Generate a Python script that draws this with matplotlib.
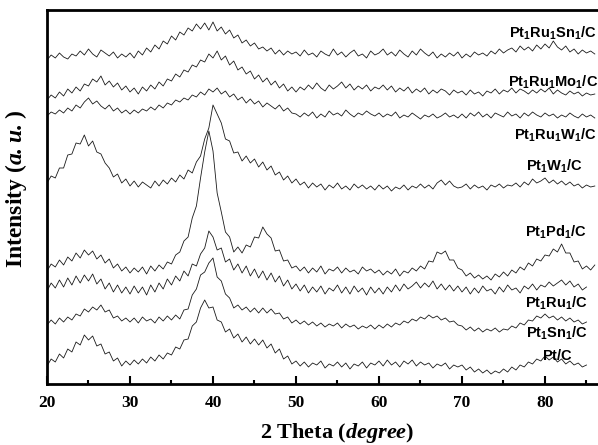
"""XRD patterns of the Pt based catalysts"""

import numpy as np
import matplotlib.pyplot as plt

plt.rcParams["mathtext.fontset"] = "custom"
plt.rcParams["mathtext.bf"] = "Liberation Sans:bold"
plt.rcParams["mathtext.bfit"] = "Liberation Serif:italic:bold"

# 2 theta grid, 0.5 degree steps
theta_full = np.arange(20, 86.01, 0.5)
theta_short = np.arange(20, 85.01, 0.5)

# intensities (arbitrary units, stacked offsets)
pt_ru_sn = [324, 329, 326, 331, 327, 325, 330, 328, 333, 329, 335, 330, 327, 334, 331, 328, 332, 326, 330, 327,
            331, 326, 333, 329, 336, 332, 339, 335, 343, 340, 348, 344, 352, 349, 356, 353, 360, 355, 361, 354,
            362, 353, 357, 350, 354, 346, 349, 341, 344, 338, 341, 335, 337, 333, 336, 330, 334, 329, 333, 330,
            332, 328, 334, 329, 331, 327, 333, 330, 328, 335, 329, 332, 327, 331, 334, 328, 330, 326, 333, 329,
            331, 335, 329, 332, 328, 334, 330, 327, 333, 329, 335, 331, 328, 332, 326, 330, 327, 331, 328, 332,
            326, 330, 327, 332, 329, 331, 328, 333, 330, 335, 331, 334, 336, 332, 338, 334, 337, 333, 339, 335,
            340, 336, 343, 337, 334, 338, 332, 335, 330, 334, 331, 333, 330]
pt_ru_mo = [284, 289, 286, 292, 288, 295, 291, 297, 293, 300, 298, 305, 302, 308, 299, 303, 297, 301, 294, 298,
            292, 296, 290, 297, 293, 299, 295, 302, 298, 305, 303, 310, 307, 314, 312, 319, 317, 324, 322, 330,
            326, 333, 324, 328, 319, 323, 314, 317, 310, 313, 305, 309, 302, 306, 299, 303, 296, 300, 293, 297,
            292, 297, 294, 299, 295, 301, 296, 293, 299, 295, 298, 302, 296, 300, 294, 298, 295, 299, 293, 297,
            295, 299, 294, 298, 292, 296, 293, 297, 291, 295, 292, 296, 290, 294, 291, 295, 293, 289, 294, 291,
            293, 289, 294, 290, 292, 288, 293, 291, 295, 290, 294, 292, 296, 291, 295, 293, 290, 294, 291, 295,
            292, 296, 290, 294, 291, 289, 293, 290, 292, 288, 291, 289, 290]
pt_ru_w = [268, 272, 270, 274, 271, 276, 273, 279, 276, 282, 286, 280, 283, 278, 275, 279, 273, 276, 271, 274,
           270, 274, 271, 275, 273, 277, 274, 279, 276, 281, 279, 284, 282, 286, 284, 289, 287, 292, 289, 295,
           292, 296, 290, 293, 287, 290, 284, 287, 281, 285, 280, 283, 277, 281, 278, 275, 279, 273, 276, 271,
           270, 267, 271, 268, 272, 266, 270, 267, 273, 269, 271, 268, 274, 270, 267, 271, 269, 273, 270, 268,
           271, 267, 270, 268, 272, 266, 269, 267, 271, 268, 265, 269, 267, 270, 266, 268, 271, 267, 269, 266,
           270, 266, 271, 268, 272, 267, 270, 266, 271, 269, 267, 272, 268, 270, 266, 271, 268, 272, 269, 267,
           271, 268, 270, 266, 269, 267, 271, 268, 266, 270, 267, 269, 266]
pt_w = [201, 208, 206, 216, 216, 229, 230, 241, 240, 249, 238, 243, 232, 230, 221, 216, 207, 210, 201, 205,
        198, 203, 197, 202, 199, 196, 203, 198, 204, 200, 206, 202, 209, 205, 214, 211, 222, 228, 245, 256,
        279, 270, 261, 245, 243, 231, 232, 223, 228, 221, 225, 217, 222, 214, 218, 209, 212, 204, 208, 201,
        205, 199, 202, 196, 201, 197, 200, 194, 199, 196, 201, 195, 198, 194, 200, 196, 199, 195, 198, 194,
        199, 195, 198, 193, 197, 195, 199, 194, 198, 196, 200, 196, 199, 195, 201, 204, 199, 203, 198, 196,
        197, 200, 195, 199, 196, 198, 194, 199, 197, 200, 196, 199, 198, 201, 197, 202, 199, 205, 201, 203,
        206, 201, 204, 200, 203, 199, 202, 198, 200, 196, 199, 197, 198]
pt_pd = [113, 120, 117, 124, 119, 127, 123, 131, 126, 134, 129, 133, 125, 129, 121, 125, 116, 120, 113, 117,
         111, 116, 112, 117, 110, 118, 113, 119, 115, 122, 120, 129, 132, 143, 147, 166, 178, 206, 232, 253,
         233, 191, 172, 152, 147, 132, 137, 131, 139, 137, 147, 146, 157, 150, 146, 133, 134, 123, 124, 116,
         118, 113, 117, 111, 116, 112, 118, 110, 115, 113, 117, 111, 116, 112, 114, 110, 117, 113, 115, 111,
         114, 109, 113, 110, 115, 108, 113, 111, 116, 113, 118, 115, 123, 122, 132, 130, 133, 124, 124, 116,
         114, 108, 111, 106, 109, 105, 108, 104, 110, 107, 112, 108, 114, 111, 117, 114, 121, 118, 125, 123,
         129, 128, 135, 132, 140, 131, 131, 122, 123, 115, 118, 114, 119]
pt_ru = [93, 101, 96, 104, 97, 106, 99, 108, 101, 109, 103, 110, 100, 105, 95, 101, 92, 99, 91, 97,
         90, 98, 91, 97, 89, 99, 92, 101, 95, 105, 99, 108, 103, 113, 108, 120, 118, 130, 136, 153,
         147, 134, 136, 122, 125, 114, 120, 111, 118, 108, 115, 106, 113, 104, 111, 102, 108, 98, 104, 95,
         100, 93, 99, 91, 97, 92, 98, 90, 96, 93, 99, 91, 97, 90, 98, 92, 96, 89, 97, 91,
         96, 90, 97, 92, 99, 93, 100, 95, 98, 102, 96, 101, 97, 103, 95, 100, 94, 99, 93, 98,
         92, 97, 90, 96, 91, 98, 93, 95, 90, 97, 92, 99, 94, 96, 91, 98, 95, 100, 94, 99,
         97, 102, 98, 101, 104, 99, 103, 97, 100, 94, 97]
pt_sn = [59, 64, 60, 66, 62, 67, 64, 70, 68, 75, 72, 77, 74, 79, 72, 74, 66, 68, 63, 66,
         62, 66, 61, 67, 63, 65, 61, 67, 63, 68, 64, 69, 65, 74, 75, 89, 95, 109, 112, 121,
         126, 107, 103, 90, 86, 76, 79, 74, 77, 72, 76, 71, 76, 71, 75, 70, 71, 65, 67, 61,
         64, 60, 63, 59, 62, 58, 61, 57, 60, 58, 61, 56, 60, 57, 59, 55, 58, 56, 59, 55,
         59, 56, 60, 57, 61, 59, 63, 61, 65, 63, 67, 65, 69, 66, 68, 64, 66, 62, 63, 59,
         58, 54, 57, 53, 56, 52, 55, 53, 56, 52, 55, 54, 58, 56, 61, 59, 64, 63, 68, 66,
         70, 66, 68, 64, 67, 63, 66, 62, 64, 60, 62]
pt_c = [18, 25, 22, 30, 26, 35, 32, 42, 39, 49, 44, 48, 38, 40, 30, 32, 23, 26, 18, 23,
        19, 24, 20, 25, 21, 27, 23, 29, 25, 31, 29, 37, 35, 44, 45, 58, 62, 76, 84, 76,
        77, 64, 62, 52, 55, 46, 50, 42, 47, 40, 45, 39, 44, 36, 40, 31, 35, 25, 28, 20,
        23, 18, 22, 17, 21, 19, 23, 16, 20, 18, 22, 17, 21, 15, 20, 18, 22, 16, 21, 19,
        23, 18, 24, 19, 22, 17, 23, 20, 24, 18, 22, 19, 21, 16, 20, 18, 21, 15, 19, 17,
        19, 14, 17, 12, 15, 11, 14, 10, 13, 11, 15, 12, 17, 14, 19, 17, 22, 20, 25, 23,
        28, 24, 27, 22, 25, 20, 23, 19, 21, 17, 19]

labels = [r"$\mathbf{Pt_1Ru_1Sn_1/C}$", r"$\mathbf{Pt_1Ru_1Mo_1/C}$", r"$\mathbf{Pt_1Ru_1W_1/C}$",
          r"$\mathbf{Pt_1W_1/C}$", r"$\mathbf{Pt_1Pd_1/C}$", r"$\mathbf{Pt_1Ru_1/C}$",
          r"$\mathbf{Pt_1Sn_1/C}$", r"$\mathbf{Pt/C}$"]
label_x = [75.7, 75.6, 76.3, 77.7, 77.6, 77.6, 77.7, 79.6]
label_y = [351, 302, 249, 218, 152, 81, 51, 29]

series = [pt_ru_sn, pt_ru_mo, pt_ru_w, pt_w, pt_pd, pt_ru, pt_sn, pt_c]

fig = plt.figure(figsize=(5.98, 4.45), dpi=100)
# the frame runs past the right edge of the picture (x up to 90)
ax = fig.add_axes([47 / 598, 61 / 445, 581 / 598, 374 / 445])

for vals in series:
    x = theta_full if len(vals) == len(theta_full) else theta_short
    ax.plot(x, vals, color="#1a1a1a", lw=0.6)

for lab, lx, ly in zip(labels, label_x, label_y):
    ax.text(lx, ly, lab, fontsize=10.5, va="center", ha="left")

ax.set_xlim(20, 90)
ax.set_ylim(0, 374)
ax.set_yticks([])
ax.set_xticks([20, 30, 40, 50, 60, 70, 80])
ax.set_xticks([25, 35, 45, 55, 65, 75, 85], minor=True)
ax.tick_params(axis="x", which="major", direction="in", length=6, width=1.5, pad=8)
ax.tick_params(axis="x", which="minor", direction="in", length=3, width=1.5)
for lab in ax.get_xticklabels():
    lab.set_fontfamily("Liberation Serif")
    lab.set_fontweight("bold")
    lab.set_fontsize(12.5)
for side in ["left", "top", "bottom", "right"]:
    ax.spines[side].set_linewidth(2)

ax.set_xlabel(r"2 Theta ($\mathbfit{degree}$)", fontsize=16, fontweight="bold",
              family="Liberation Serif")
ax.set_ylabel(r"Intensity ($\mathbfit{a.u.}$)", fontsize=17, fontweight="bold",
              family="Liberation Serif")
ax.xaxis.set_label_coords(0.5, -0.1)
ax.yaxis.set_label_coords(-0.031, 0.52)

plt.savefig("out.png", dpi=100)
plt.close()
